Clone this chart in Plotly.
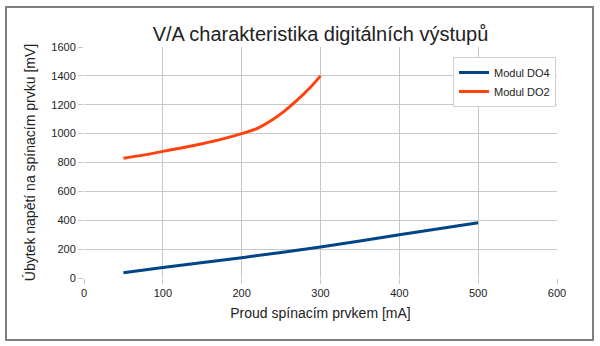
import plotly.graph_objects as go

# Data
current_do4 = [50, 100, 200, 300, 400, 500]
voltage_do4 = [37, 72, 141, 214, 299, 383]

current_do2 = [50, 75, 100, 125, 150, 175, 200, 220, 236, 253, 270, 287, 300]
voltage_do2 = [830, 851, 877, 902, 930, 962, 1000, 1037, 1085, 1151, 1230, 1319, 1400]

x_ticks = [0, 100, 200, 300, 400, 500, 600]
y_ticks = [0, 200, 400, 600, 800, 1000, 1200, 1400, 1600]

W, H = 600, 346
L, R, T, B = 84, 43, 47, 68
pw, ph = W - L - R, H - T - B

FONT = "Liberation Sans, Arial, sans-serif"

fig = go.Figure()
fig.add_trace(go.Scatter(x=current_do4, y=voltage_do4, mode="lines", name="Modul DO4",
                         line=dict(color="#004586", width=3, shape="spline", smoothing=0.6)))
fig.add_trace(go.Scatter(x=current_do2, y=voltage_do2, mode="lines", name="Modul DO2",
                         line=dict(color="#ff420e", width=3, shape="spline", smoothing=0.6)))

def px(xpix):
    return (xpix - L) / pw

def py(ypix):
    return (H - B - ypix) / ph

# Outer frame
fig.add_shape(type="rect", xref="paper", yref="paper",
              x0=px(6), x1=px(593), y0=py(340), y1=py(7),
              line=dict(color="#7f7f7f", width=2), layer="below")

fig.update_layout(
    width=W, height=H,
    margin=dict(l=L, r=R, t=T, b=B),
    paper_bgcolor="white", plot_bgcolor="white",
    font=dict(family=FONT, color="#222222", size=11),
    title=dict(text="V/A charakteristika digitálních výstupů",
               x=(L + pw / 2) / W, xanchor="center",
               y=1 - 34 / H, yanchor="middle",
               font=dict(size=20, color="#222222", family=FONT)),
    xaxis=dict(range=[0, 600], tickvals=x_ticks, showgrid=True, gridcolor="#c8c8c8",
               gridwidth=1, zeroline=False, showline=False,
               ticks="outside", ticklen=5, tickcolor="#c8c8c8",
               title=dict(text="Proud spínacím prvkem [mA]", font=dict(size=14), standoff=9),
               tickfont=dict(size=11)),
    yaxis=dict(range=[0, 1600], tickvals=y_ticks, showgrid=True, gridcolor="#c8c8c8",
               gridwidth=1, zeroline=False, showline=False,
               ticks="outside", ticklen=5, tickcolor="#c8c8c8",
               title=dict(text="Úbytek napětí na spínacím prvku [mV]", font=dict(size=14), standoff=12),
               tickfont=dict(size=11)),
    legend=dict(x=px(453), y=py(57), xanchor="left", yanchor="top",
                bgcolor="white", bordercolor="#d0d0d0", borderwidth=1,
                font=dict(size=11), itemwidth=30, tracegroupgap=0),
    showlegend=True,
)

fig.write_html("out.html")
